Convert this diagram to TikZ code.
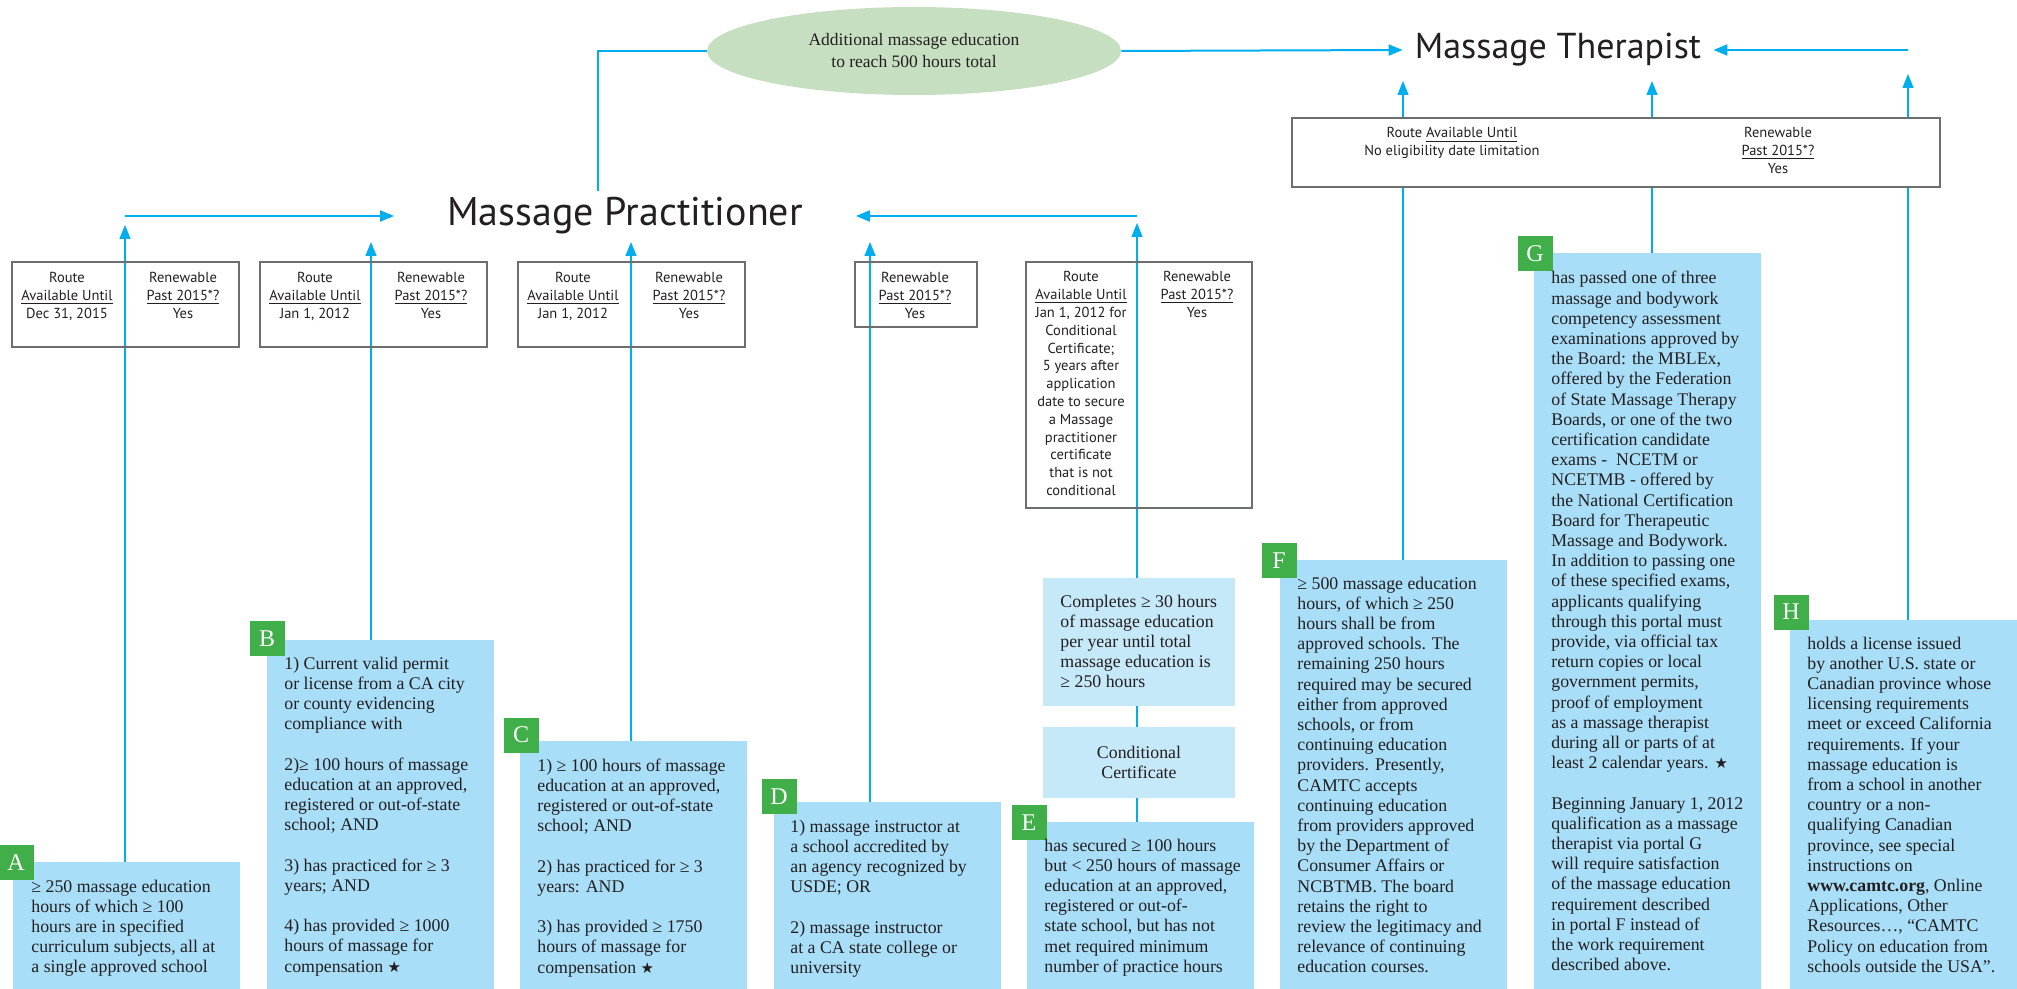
\documentclass[tikz,border=0pt]{standalone}
\usepackage{fontspec}
\setmainfont{Liberation Serif}
\newfontfamily\uisans{PT Sans}
\newfontfamily\symfont{DejaVu Sans}
\usetikzlibrary{arrows.meta,shapes.geometric}
\definecolor{lineC}{HTML}{00AEEF}
\definecolor{boxC}{HTML}{A9DEF8}
\definecolor{lightC}{HTML}{C6E9F9}
\definecolor{greenC}{HTML}{40AE49}
\definecolor{ellC}{HTML}{C6DFC1}
\definecolor{borderC}{HTML}{6D6E70}
\definecolor{txtC}{HTML}{231F20}
\pgfdeclarelayer{bg}
\pgfsetlayers{bg,main}
\newcommand\bstar{{\symfont\fontsize{7.5pt}{7.5pt}\selectfont ★}}
\newcommand\myul[1]{\underline{#1}}
\begin{document}
\begin{tikzpicture}[x=0.5pt,y=-0.5pt,
  bluebox/.style={fill=boxC, inner sep=0, minimum width=113.5pt},
  lightbox/.style={fill=lightC, inner sep=0, minimum width=96pt},
  routebox/.style={draw=borderC, line width=0.65pt, inner sep=0},
  lab/.style={fill=greenC, text=white, minimum width=17.5pt, minimum height=17.5pt, inner sep=0, font=\fontsize{12pt}{12pt}\selectfont},
  bodytxt/.style={anchor=base west, inner sep=0, text=txtC, font=\fontsize{8.9pt}{10.1pt}\selectfont},
  smalltxt/.style={anchor=base, inner sep=0, text=txtC, font=\uisans\fontsize{7.25pt}{8.9pt}\selectfont},
  titletxt/.style={inner sep=0, text=txtC},
  vline/.style={draw=lineC, line width=0.65pt},
  hline/.style={draw=lineC, line width=1pt},
  arrowtip/.style={-{Triangle[length=7pt,width=5.5pt]}},
]
\useasboundingbox (0,0) rectangle (2017,989);

% titles and ellipse
\node[titletxt, minimum width=230.5pt, font=\uisans\fontsize{20pt}{22pt}\selectfont] (mp) at (625,216) {Massage Practitioner};
\node[titletxt, minimum width=155pt, font=\uisans\fontsize{18pt}{20pt}\selectfont] (mt) at (1558,50) {Massage Therapist};
\node[ellipse, fill=ellC, minimum width=207pt, minimum height=44pt, inner sep=0, align=center, text=txtC,
      font=\fontsize{8.75pt}{11pt}\selectfont] (add) at (914,51) {Additional massage education\\to reach 500 hours total};

% route boxes (practitioner)
\node[routebox, minimum width=113.5pt, minimum height=42.5pt] (rA) at (125.5,304.5) {};
\node[routebox, minimum width=113.5pt, minimum height=42.5pt] (rB) at (373.5,304.5) {};
\node[routebox, minimum width=113.5pt, minimum height=42.5pt] (rC) at (631.5,304.5) {};
\node[routebox, minimum width=61pt, minimum height=32.5pt] (rD) at (916,294.5) {};
\node[routebox, minimum width=113pt, minimum height=123pt] (rE) at (1139,385) {};
\node[routebox, fill=white, minimum width=324pt, minimum height=34.5pt] (rT) at (1616,152.5) {};

\node[smalltxt] (rAl) at (67,283) {\parbox[t]{60pt}{\centering Route\\\myul{Available Until}\\Dec 31, 2015}};
\node[smalltxt] (rAr) at (183,283) {\parbox[t]{60pt}{\centering Renewable\\\myul{Past 2015*?}\\Yes}};
\node[smalltxt] (rBl) at (315,283) {\parbox[t]{60pt}{\centering Route\\\myul{Available Until}\\Jan 1, 2012}};
\node[smalltxt] (rBr) at (431,283) {\parbox[t]{60pt}{\centering Renewable\\\myul{Past 2015*?}\\Yes}};
\node[smalltxt] (rCl) at (573,283) {\parbox[t]{60pt}{\centering Route\\\myul{Available Until}\\Jan 1, 2012}};
\node[smalltxt] (rCr) at (689,283) {\parbox[t]{60pt}{\centering Renewable\\\myul{Past 2015*?}\\Yes}};
\node[smalltxt] (rDr) at (915,283) {\parbox[t]{60pt}{\centering Renewable\\\myul{Past 2015*?}\\Yes}};
\node[smalltxt] (rEl) at (1081,282) {\parbox[t]{60pt}{\centering Route\\\myul{Available Until}\\Jan 1, 2012 for\\Conditional\\Certificate;\\5 years after\\application\\date to secure\\a Massage\\practitioner\\certificate\\that is not\\conditional}};
\node[smalltxt] (rEr) at (1197,282) {\parbox[t]{60pt}{\centering Renewable\\\myul{Past 2015*?}\\Yes}};
\node[smalltxt] (rTl) at (1452,138) {\parbox[t]{120pt}{\centering Route \myul{Available Until}\\No eligibility date limitation}};
\node[smalltxt] (rTr) at (1778,138) {\parbox[t]{60pt}{\centering Renewable\\\myul{Past 2015*?}\\Yes}};

% criteria boxes
\node[bluebox, minimum height=63.5pt] (A) at (126.5,925.5) {};
\node[bluebox, minimum height=174.5pt] (B) at (380.5,814.5) {};
\node[bluebox, minimum height=124pt] (C) at (633.5,865) {};
\node[bluebox, minimum height=93.5pt] (D) at (887.5,895.5) {};
\node[lightbox, minimum height=64pt] (E1) at (1139,642) {};
\node[lightbox, minimum height=35.5pt, align=center, text=txtC, font=\fontsize{8.9pt}{10.1pt}\selectfont] (E2) at (1139,762.5) {Conditional\\Certificate};
\node[bluebox, minimum height=83.5pt] (E) at (1140.5,905.5) {};
\node[bluebox, minimum height=214.5pt] (F) at (1393.5,774.5) {};
\node[bluebox, minimum height=368pt] (G) at (1647.5,621) {};
\node[bluebox, minimum height=184.5pt] (H) at (1903.5,804.5) {};

\node[lab] (lA) at (16,862.5) {A};
\node[lab] (lB) at (267,638.5) {B};
\node[lab] (lC) at (521,735) {C};
\node[lab] (lD) at (779,796.5) {D};
\node[lab] (lE) at (1029,822.5) {E};
\node[lab] (lF) at (1279,560.5) {F};
\node[lab] (lG) at (1535,254) {G};
\node[lab] (lH) at (1791,612) {H};

\node[bodytxt] (tAtxt) at (31,892) {\parbox[t]{120pt}{\raggedright
≥ 250 massage education\\hours of which ≥ 100\\hours are in specified\\curriculum subjects, all at\\a single approved school}};
\node[bodytxt] (tBtxt) at (284,669) {\parbox[t]{120pt}{\raggedright
1) Current valid permit\\or license from a CA city\\or county evidencing\\compliance with\\[10.1pt]
2)≥ 100 hours of massage\\education at an approved,\\registered or out-of-state\\school; AND\\[10.1pt]
3) has practiced for ≥ 3\\years; AND\\[10.1pt]
4) has provided ≥ 1000\\hours of massage for\\compensation \bstar}};
\node[bodytxt] (tCtxt) at (537,771) {\parbox[t]{120pt}{\raggedright
1) ≥ 100 hours of massage\\education at an approved,\\registered or out-of-state\\school; AND\\[10.1pt]
2) has practiced for ≥ 3\\years: AND\\[10.1pt]
3) has provided ≥ 1750\\hours of massage for\\compensation \bstar}};
\node[bodytxt] (tDtxt) at (790,832) {\parbox[t]{120pt}{\raggedright
1) massage instructor at\\a school accredited by\\an agency recognized by\\USDE; OR\\[10.1pt]
2) massage instructor\\at a CA state college or\\university}};
\node[bodytxt] (tE1txt) at (1060,607) {\parbox[t]{110pt}{\raggedright
Completes ≥ 30 hours\\of massage education\\per year until total\\massage education is\\≥ 250 hours}};
\node[bodytxt] (tEtxt) at (1044,851) {\parbox[t]{120pt}{\raggedright
has secured ≥ 100 hours\\but < 250 hours of massage\\education at an approved,\\registered or out-of-\\state school, but has not\\met required minimum\\number of practice hours}};
\node[bodytxt] (tFtxt) at (1297,589) {\parbox[t]{120pt}{\raggedright
≥ 500 massage education\\hours, of which ≥ 250\\hours shall be from\\approved schools. The\\remaining 250 hours\\required may be secured\\either from approved\\schools, or from\\continuing education\\providers. Presently,\\CAMTC accepts\\continuing education\\from providers approved\\by the Department of\\Consumer Affairs or\\NCBTMB. The board\\retains the right to\\review the legitimacy and\\relevance of continuing\\education courses.}};
\node[bodytxt] (tGtxt) at (1551,284) {\parbox[t]{120pt}{\raggedright
has passed one of three\\massage and bodywork\\competency assessment\\examinations approved by\\the Board: the MBLEx,\\offered by the Federation\\of State Massage Therapy\\Boards, or one of the two\\certification candidate\\exams -~ NCETM or\\NCETMB - offered by\\the National Certification\\Board for Therapeutic\\Massage and Bodywork.\\In addition to passing one\\of these specified exams,\\applicants qualifying\\through this portal must\\provide, via official tax\\return copies or local\\government permits,\\proof of employment\\as a massage therapist\\during all or parts of at\\least 2 calendar years. \bstar\\[10.1pt]
Beginning January 1, 2012\\qualification as a massage\\therapist via portal G\\will require satisfaction\\of the massage education\\requirement described\\in portal F instead of\\the work requirement\\described above.}};
\node[bodytxt] (tHtxt) at (1807,649) {\parbox[t]{120pt}{\raggedright
holds a license issued\\by another U.S. state or\\Canadian province whose\\licensing requirements\\meet or exceed California\\requirements. If your\\massage education is\\from a school in another\\country or a non-\\qualifying Canadian\\province, see special\\instructions on\\\textbf{www.camtc.org}, Online\\Applications, Other\\Resources…, “CAMTC\\Policy on education from\\schools outside the USA”.}};

% arrow tips
\coordinate (tA) at (125,225);
\coordinate (tB) at (371,242);
\coordinate (tC) at (631,242);
\coordinate (tD) at (870,242);
\coordinate (tE) at (1137,223);
\coordinate (tF) at (1403,81);
\coordinate (tG) at (1652,81);
\coordinate (tH) at (1908,74);
\coordinate (cP) at (598,191);

\begin{pgfonlayer}{bg}
\draw[vline,arrowtip] (A.north -| tA) -- (tA);
\draw[vline,arrowtip] (B.north -| tB) -- (tB);
\draw[vline,arrowtip] (C.north -| tC) -- (tC);
\draw[vline,arrowtip] (D.north -| tD) -- (tD);
\draw[vline,arrowtip] (E.north -| tE) -- (tE);
\draw[vline,arrowtip] (F.north -| tF) -- (tF);
\draw[vline,arrowtip] (G.north -| tG) -- (tG);
\draw[vline,arrowtip] (H.north -| tH) -- (tH);
\draw[hline,arrowtip] (tA |- mp.west) -- (mp.west);
\draw[hline,arrowtip] (tE |- mp.east) -- (mp.east);
\draw[hline,arrowtip] (add.east) -- (mt.west);
\draw[hline,arrowtip] (tH |- mt.east) -- (mt.east);
\draw[hline] (add.west) -| (cP);
\end{pgfonlayer}
\end{tikzpicture}
\end{document}
